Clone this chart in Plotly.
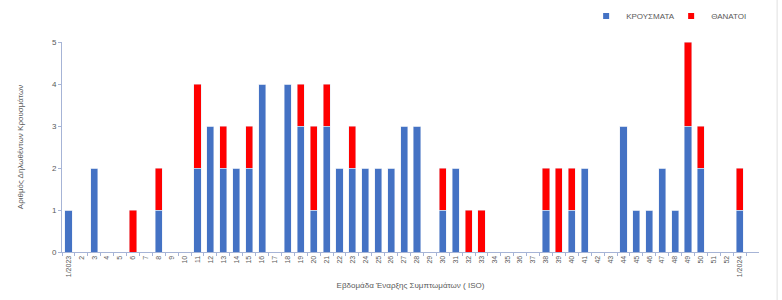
import plotly.graph_objects as go

weeks = ["1/2023"] + [str(i) for i in range(2, 53)] + ["1/2024", "2"]

cases_weeks = ["1/2023", "3", "8", "11", "12", "13", "14", "15", "16", "18", "19", "20", "21",
               "22", "23", "24", "25", "26", "27", "28", "30", "31", "38", "40", "41", "44",
               "45", "46", "47", "48", "49", "50", "1/2024"]
cases_vals = [1, 2, 1, 2, 3, 2, 2, 2, 4, 4, 3, 1, 3,
              2, 2, 2, 2, 2, 3, 3, 1, 2, 1, 1, 2, 3,
              1, 1, 2, 1, 3, 2, 1]

deaths_weeks = ["6", "8", "11", "13", "15", "19", "20", "21", "23", "30", "32", "33",
                "38", "39", "40", "49", "50", "1/2024"]
deaths_vals = [1, 1, 2, 1, 1, 1, 2, 1, 1, 1, 1, 1,
               1, 2, 1, 2, 1, 1]

cases_map = dict(zip(cases_weeks, cases_vals))
deaths_map = dict(zip(deaths_weeks, deaths_vals))
cases = [cases_map.get(w, 0) for w in weeks]
deaths = [deaths_map.get(w, 0) for w in weeks]

BLUE = "#4472C4"
RED = "#FF0000"
GRAY = "#595959"
FONT = "Liberation Sans"

fig = go.Figure()
fig.add_trace(go.Bar(x=weeks, y=cases, name="ΚΡΟΥΣΜΑΤΑ", marker_color=BLUE,
                     width=0.55, showlegend=False))
fig.add_trace(go.Bar(x=weeks, y=deaths, name="ΘΑΝΑΤΟΙ", marker_color=RED,
                     width=0.55, showlegend=False))
# legend entries with small square markers
fig.add_trace(go.Scatter(x=[None], y=[None], mode="markers", name="ΚΡΟΥΣΜΑΤΑ",
                         marker=dict(symbol="square", size=6, color=BLUE)))
fig.add_trace(go.Scatter(x=[None], y=[None], mode="markers", name="ΘΑΝΑΤΟΙ",
                         marker=dict(symbol="square", size=6, color=RED)))

fig.update_layout(
    barmode="stack",
    width=782, height=300,
    margin=dict(l=62, r=23, t=42, b=48, autoexpand=False),
    paper_bgcolor="white", plot_bgcolor="white",
    font=dict(family=FONT, size=8, color=GRAY),
    legend=dict(orientation="h", x=0.752, y=1.124, xanchor="left", yanchor="middle",
                font=dict(size=8, color=GRAY), itemwidth=30, traceorder="normal",
                entrywidth=40, entrywidthmode="pixels", tracegroupgap=0),
    xaxis=dict(type="category", categoryorder="array", categoryarray=weeks,
               range=[-0.5, len(weeks) - 0.5],
               tickangle=-90, tickfont=dict(size=7, color=GRAY),
               showline=True, linecolor="#A6B4D6", linewidth=1,
               ticks="outside", tickson="boundaries", ticklen=3, tickcolor="#A6B4D6",
               showgrid=False,
               title=dict(text="Εβδομάδα Έναρξης Συμπτωμάτων ( ISO)",
                          font=dict(size=8, color=GRAY), standoff=6)),
    yaxis=dict(range=[0, 5], dtick=1, tickfont=dict(size=8, color=GRAY),
               showline=True, linecolor="#A6B4D6", linewidth=1,
               ticks="outside", ticklen=3, tickcolor="#A6B4D6",
               showgrid=False, zeroline=False,
               title=dict(text="Αριθμός Δηλωθέντων Κρουσμάτων",
                          font=dict(size=8, color=GRAY), standoff=27)),
    shapes=[dict(type="line", xref="paper", yref="paper",
                 x0=1.026, x1=1.026, y0=-0.25, y1=1.2,
                 line=dict(color="#E0E0E0", width=1))],
)

fig.write_html("out.html")
